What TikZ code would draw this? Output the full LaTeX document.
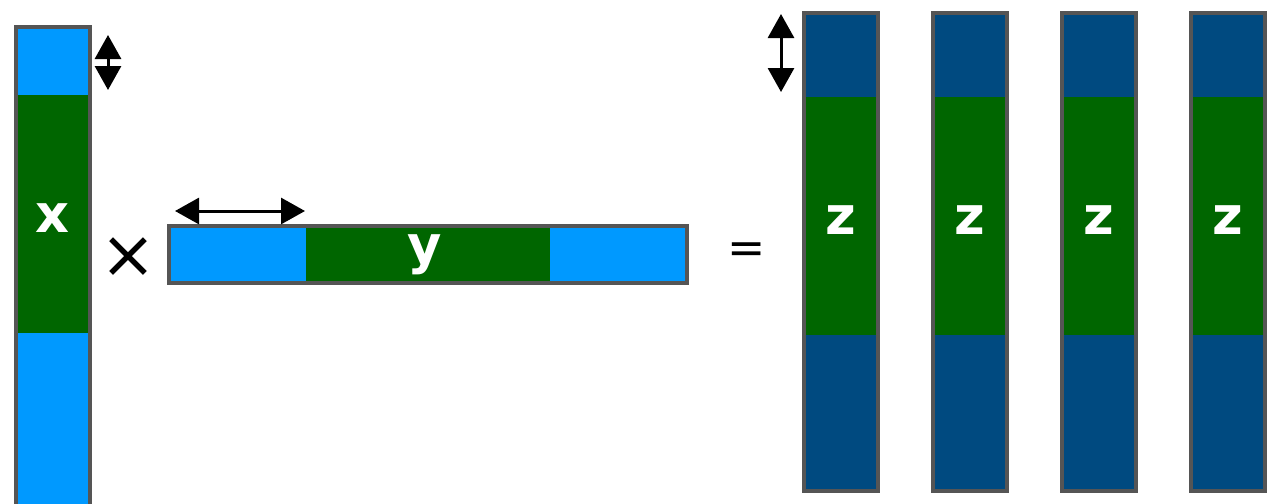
\documentclass[tikz,border=0pt]{standalone}
\usepackage{fontspec}
\setmainfont{DejaVu Sans}
\usetikzlibrary{arrows.meta}

\definecolor{hellblau}{RGB}{0,153,255}
\definecolor{dunkelblau}{RGB}{0,74,128}
\definecolor{gruen}{RGB}{0,102,0}
\definecolor{rand}{RGB}{85,85,85}

\tikzset{
    rahmen/.style={draw=rand, line width=0.07cm},
    beschriftung/.style={text=white, font=\fontsize{30}{36}\selectfont\bfseries},
    massstab/.style={{Triangle[width=0.52cm,length=0.48cm]}-{Triangle[width=0.52cm,length=0.48cm]}, line width=0.06cm, black},
    zeichen/.style={font=\fontsize{38}{46}\selectfont}
}

\begin{document}
\begin{tikzpicture}
        \useasboundingbox (0,0) rectangle (25.44,10.06);
        \clip (0,0) rectangle (25.44,10.06);

        % zeichne Vektor x
        \fill[hellblau] (0.32,-0.3) rectangle (1.80,9.52);
        \fill[gruen] (0.32,3.40) rectangle (1.80,8.16);
        \draw[rahmen] (0.32,-0.3) rectangle (1.80,9.52);
        \node[beschriftung] (labx) at (1.06,5.70) {x};

        % zeichne Vektor y
        \fill[hellblau] (3.38,4.40) rectangle (13.74,5.54);
        \fill[gruen] (6.12,4.40) rectangle (11.00,5.54);
        \draw[rahmen] (3.38,4.40) rectangle (13.74,5.54);
        \node[beschriftung] (laby) at (8.50,4.96) {y};

        % zeichne Ergebnis z
        \foreach \i in {0,...,3} {
            \fill[dunkelblau] (16.08+2.58*\i,0.24) rectangle (17.56+2.58*\i,9.80);
            \fill[gruen] (16.08+2.58*\i,3.36) rectangle (17.56+2.58*\i,8.12);
            \draw[rahmen] (16.08+2.58*\i,0.24) rectangle (17.56+2.58*\i,9.80);
            \node[beschriftung] (labz\i) at (16.82+2.58*\i,5.66) {z};
        }

        % zeichne Operatoren
        \node[zeichen] (mal) at (2.56,4.90) {×};
        \node[font=\fontsize{26}{32}\selectfont] (gleich) at (14.94,5.00) {=};

        % zeichne Verschiebungen
        \coordinate (xo) at (2.16,9.36);
        \coordinate (xu) at (2.16,8.26);
        \draw[massstab] (xo) -- (xu);
        \coordinate (yl) at (3.50,5.84);
        \coordinate (yr) at (6.10,5.84);
        \draw[massstab] (yl) -- (yr);
        \coordinate (zo) at (15.62,9.78);
        \coordinate (zu) at (15.62,8.22);
        \draw[massstab] (zo) -- (zu);
    \end{tikzpicture}
\end{document}
